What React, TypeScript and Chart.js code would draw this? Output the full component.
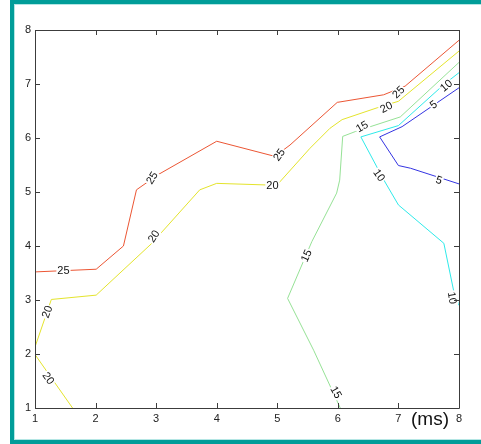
import React, { useEffect, useRef } from 'react';
import { Chart, registerables } from 'chart.js';

Chart.register(...registerables);

// Axis ticks
const xTicks = [1, 2, 3, 4, 5, 6, 7, 8];
const yTicks = [1, 2, 3, 4, 5, 6, 7, 8];
const xAxisUnit = '(ms)';

// Contour level 25
const level25X = [1, 2.01, 2.46, 2.675, 3.03, 4.0, 4.96, 5.21, 5.99, 6.755, 7.11, 8];
const level25Y = [3.52, 3.57, 4.0, 5.04, 5.32, 5.94, 5.66, 5.87, 6.66, 6.8, 6.96, 7.81];
// Contour level 20 (upper branch)
const level20aX = [1, 1.27, 2.01, 2.92, 3.72, 4.0, 4.83, 5.02, 5.54, 5.87, 6.07, 6.65, 7.0, 8];
const level20aY = [2.13, 3.01, 3.09, 4.04, 5.04, 5.16, 5.13, 5.16, 5.81, 6.18, 6.34, 6.56, 6.68, 7.61];
// Contour level 20 (lower-left branch)
const level20bX = [1, 1.62];
const level20bY = [1.99, 1.0];
// Contour level 15
const level15X = [6.04, 5.6, 5.17, 5.57, 5.98, 6.03, 6.08, 6.29, 7.03, 8];
const level15Y = [1.0, 2.07, 3.03, 4.08, 4.98, 5.22, 6.03, 6.12, 6.39, 7.4];
// Contour level 10
const level10X = [8, 7.91, 7.75, 7.0, 6.76, 6.38, 7.0, 7.75, 8];
const level10Y = [2.9, 3.18, 4.05, 4.76, 5.22, 6.02, 6.23, 6.99, 7.21];
// Contour level 5
const level5X = [8, 7.2, 7.0, 6.69, 7.06, 8];
const level5Y = [5.15, 5.44, 5.49, 6.02, 6.21, 6.93];

// Inline contour labels
const labelText = ['25', '25', '25', '25', '20', '20', '20', '20', '20', '15', '15', '15', '10', '10', '10', '5', '5'];
const labelX = [1.47, 2.93, 5.03, 7.0, 1.2, 2.96, 4.92, 6.8, 1.22, 5.48, 6.4, 5.97, 7.79, 6.68, 7.89, 7.58, 7.67];
const labelY = [3.54, 5.26, 5.69, 6.85, 2.78, 4.18, 5.13, 6.57, 1.55, 3.82, 6.21, 1.29, 6.97, 5.31, 3.04, 6.62, 5.22];
const labelAngle = [0, -58, -55, -45, -70, -58, 0, -28, 55, -65, -30, 60, -40, 55, 80, -35, 18];

const COLORS = {
  c25: '#ec5634',
  c20: '#e4e42c',
  c15: '#96e296',
  c10: '#2eeaea',
  c5: '#3434e2',
};

const FONT = "'Liberation Sans Narrow', 'Liberation Sans', Arial, sans-serif";

const toPoints = (xs: number[], ys: number[]) => xs.map((x, i) => ({ x, y: ys[i] }));

const framePlugin = {
  id: 'frame',
  beforeDraw(chart: any) {
    const ctx = chart.ctx;
    const w = chart.width;
    const h = chart.height;
    ctx.save();
    ctx.fillStyle = '#ffffff';
    ctx.fillRect(0, 0, w, h);
    ctx.fillStyle = '#019d99';
    ctx.fillRect(10, 0, w - 10, 4);
    ctx.fillRect(10, 0, 4, h);
    ctx.fillRect(10, h - 4, w - 10, 4);
    ctx.fillStyle = '#b4e6e4';
    ctx.fillRect(14, 4, 1, h - 8);
    ctx.fillRect(14, 4, w - 14, 1);
    ctx.fillRect(14, h - 5, w - 14, 1);
    ctx.restore();
  },
};

const labelsPlugin = {
  id: 'contourLabels',
  afterDatasetsDraw(chart: any) {
    const ctx = chart.ctx;
    const xs = chart.scales.x;
    const ys = chart.scales.y;
    ctx.save();
    ctx.font = `11px ${FONT}`;
    ctx.textAlign = 'center';
    ctx.textBaseline = 'middle';
    labelText.forEach((t, i) => {
      const px = xs.getPixelForValue(labelX[i]);
      const py = ys.getPixelForValue(labelY[i]);
      const tw = ctx.measureText(t).width;
      ctx.save();
      ctx.translate(px, py);
      ctx.rotate((labelAngle[i] * Math.PI) / 180);
      ctx.fillStyle = '#ffffff';
      ctx.fillRect(-tw / 2 - 1, -5, tw + 2, 10);
      ctx.fillStyle = '#111111';
      ctx.fillText(t, 0, 0.5);
      ctx.restore();
    });
    ctx.restore();
  },
};

const boxPlugin = {
  id: 'boxAxes',
  afterDraw(chart: any) {
    const ctx = chart.ctx;
    const a = chart.chartArea;
    const xs = chart.scales.x;
    const ys = chart.scales.y;
    ctx.save();
    ctx.strokeStyle = '#3c3c3c';
    ctx.lineWidth = 1;
    ctx.beginPath();
    ctx.rect(Math.round(a.left) + 0.5, Math.round(a.top) + 0.5, Math.round(a.right - a.left), Math.round(a.bottom - a.top));
    ctx.stroke();
    const tl = 5;
    ctx.beginPath();
    xTicks.forEach((v) => {
      const px = Math.round(xs.getPixelForValue(v)) + 0.5;
      ctx.moveTo(px, a.bottom);
      ctx.lineTo(px, a.bottom - tl);
      ctx.moveTo(px, a.top);
      ctx.lineTo(px, a.top + tl);
    });
    yTicks.forEach((v) => {
      const py = Math.round(ys.getPixelForValue(v)) + 0.5;
      ctx.moveTo(a.left, py);
      ctx.lineTo(a.left + tl, py);
      ctx.moveTo(a.right, py);
      ctx.lineTo(a.right - tl, py);
    });
    ctx.stroke();
    ctx.fillStyle = '#111111';
    ctx.font = `19px Arial, 'Liberation Sans', sans-serif`;
    ctx.textAlign = 'center';
    ctx.textBaseline = 'middle';
    ctx.fillText(xAxisUnit, a.right - 29, a.bottom + 12);
    ctx.restore();
  },
};

export default function App() {
  const canvasRef = useRef<HTMLCanvasElement | null>(null);

  useEffect(() => {
    if (!canvasRef.current) return;
    const mk = (xs: number[], ys: number[], color: string, label: string) => ({
      label,
      data: toPoints(xs, ys),
      borderColor: color,
      backgroundColor: color,
      borderWidth: 1,
      pointRadius: 0,
      showLine: true,
      fill: false,
      tension: 0,
    });
    const chart = new Chart(canvasRef.current, {
      type: 'scatter',
      data: {
        datasets: [
          mk(level25X, level25Y, COLORS.c25, '25'),
          mk(level20aX, level20aY, COLORS.c20, '20'),
          mk(level20bX, level20bY, COLORS.c20, '20b'),
          mk(level15X, level15Y, COLORS.c15, '15'),
          mk(level10X, level10Y, COLORS.c10, '10'),
          mk(level5X, level5Y, COLORS.c5, '5'),
        ] as any,
      },
      options: {
        responsive: false,
        animation: false,
        layout: { padding: { left: 0, top: 30, right: 22, bottom: 0 } },
        plugins: {
          legend: { display: false },
          tooltip: { enabled: false },
        },
        scales: {
          x: {
            type: 'linear',
            min: 1,
            max: 8,
            grid: { display: false, drawTicks: false },
            border: { display: false },
            ticks: {
              stepSize: 1,
              autoSkip: false,
              maxRotation: 0,
              padding: 4,
              color: '#222222',
              font: { family: FONT, size: 11 },
            },
            afterFit: (s: any) => {
              s.height = 36;
            },
          },
          y: {
            type: 'linear',
            min: 1,
            max: 8,
            grid: { display: false, drawTicks: false },
            border: { display: false },
            ticks: {
              stepSize: 1,
              autoSkip: false,
              padding: 4,
              color: '#222222',
              font: { family: FONT, size: 11 },
            },
            afterFit: (s: any) => {
              s.width = 35;
            },
          },
        },
      } as any,
      plugins: [framePlugin, labelsPlugin, boxPlugin],
    });
    return () => chart.destroy();
  }, []);

  return (
    <div style={{ position: 'fixed', left: 0, top: 0, width: 481, height: 444 }}>
      <canvas ref={canvasRef} width={481} height={444} style={{ display: 'block' }} />
    </div>
  );
}
